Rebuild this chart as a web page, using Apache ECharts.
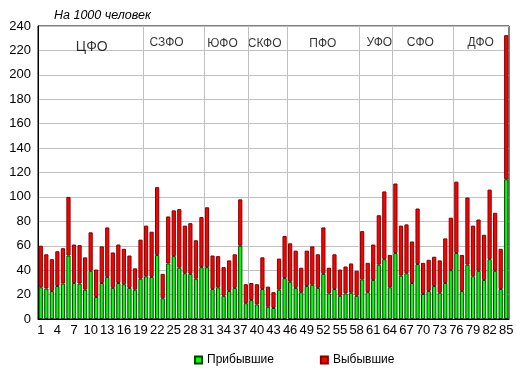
<!DOCTYPE html>
<html>
<head>
<meta charset="utf-8">
<script src="https://cdn.jsdelivr.net/npm/echarts@6/dist/echarts.min.js"></script>
<style>
  html, body { margin: 0; padding: 0; background: #fff; }
  #chart { width: 520px; height: 376px; }
</style>
</head>
<body>
<div id="chart"></div>
<script>
// region numbers 1..85
const categories = Array.from({ length: 85 }, (_, i) => String(i + 1));

// Прибывшие (green, bottom of stack)
const arrivals = [
  26, 25, 23, 27, 29, 52, 29.5, 29, 24, 39.5,
  18, 29.5, 34.5, 25.5, 29.5, 28.5, 25.5, 24, 33, 35,
  34.5, 52.5, 17, 45.5, 51.5, 42, 37.5, 37, 33, 42.5,
  42.5, 24.5, 26, 19, 23, 25.5, 60, 13, 15.5, 12,
  24.5, 10, 9, 24, 33.5, 30.5, 25.5, 22, 27, 28,
  25.5, 37, 21, 24.5, 19, 21, 21.5, 19, 32.5, 22,
  32, 44.5, 49, 26, 54, 35.5, 37.5, 29.5, 45, 20.5,
  23, 27, 21.5, 29.5, 40, 54, 23, 44.5, 35, 39.5,
  32, 49, 39.5, 24.5, 114.5
];

// Выбывшие (red, on top)
const departures = [
  34, 28, 26, 28.5, 29, 48, 31.5, 31.5, 26.5, 31.5,
  22.5, 30, 40.5, 29, 31.5, 29, 26.5, 17.5, 32, 41.5,
  37, 55.5, 20, 38.5, 37.5, 48, 39, 41.5, 31.5, 41,
  49, 27.5, 25.5, 23.5, 25, 27.5, 38, 15.5, 14, 16.5,
  26, 16.5, 13, 25.5, 34.5, 31.5, 30.5, 20, 29, 31.5,
  27.5, 38, 21, 28.5, 21.5, 22, 24, 20.5, 39.5, 24,
  29, 40.5, 55.5, 26.5, 57, 41, 40, 34, 45.5, 25.5,
  25.5, 24, 26.5, 36.5, 43, 58.5, 29.5, 55, 41.5, 42,
  37, 57, 47.5, 33, 118
];

// federal districts: label, centre (in region units), label height, font size
const districtNames = ['ЦФО', 'СЗФО', 'ЮФО', 'СКФО', 'ПФО', 'УФО', 'СФО', 'ДФО'];
const districtCenters = [10.2, 23.7, 33.8, 41.4, 51.9, 62.1, 69.5, 80.4];
const districtLabelY = [223, 226, 225.5, 225.5, 225.5, 226.5, 226, 226.5];
const districtFontSize = [14, 12, 12, 12, 12, 12, 12, 12];
// separator lines between districts
const districtBounds = [19.5, 30.5, 38.5, 45.5, 58.5, 64.5, 75.5];

const chart = echarts.init(document.getElementById('chart'), null, { renderer: 'canvas' });

const option = {
  animation: false,
  backgroundColor: '#fff',
  textStyle: { fontFamily: 'Liberation Sans', color: '#000' },
  title: {
    text: 'На 1000 человек',
    left: 54,
    top: 9,
    padding: 0,
    textStyle: { fontSize: 12.5, fontStyle: 'italic', fontWeight: 'normal', color: '#000' }
  },
  legend: {
    data: ['Прибывшие', 'Выбывшие'],
    left: 194,
    top: 354,
    padding: 0,
    itemWidth: 7,
    itemHeight: 7,
    itemGap: 46,
    icon: 'rect',
    textStyle: { fontSize: 12, color: '#000' }
  },
  grid: {
    left: 38, right: 11, top: 26, bottom: 57,
    show: true, borderColor: '#000', borderWidth: 1, backgroundColor: 'transparent'
  },
  xAxis: [
    {
      type: 'category',
      data: categories,
      axisLine: { show: true, lineStyle: { color: '#000', width: 1 } },
      axisTick: { show: false },
      axisLabel: { interval: 2, fontSize: 13, color: '#000', margin: 5 },
      splitLine: { show: false }
    },
    {
      type: 'value',
      min: 0.5,
      max: 85.5,
      show: false
    }
  ],
  yAxis: {
    type: 'value',
    min: 0,
    max: 240,
    interval: 20,
    axisLine: { show: true, lineStyle: { color: '#000', width: 1 } },
    axisTick: { show: false },
    axisLabel: { fontSize: 13, color: '#000', margin: 7 },
    splitLine: { show: true, lineStyle: { color: '#c0c0c0', width: 1 } }
  },
  series: [
    {
      name: 'Прибывшие',
      type: 'bar',
      stack: 'total',
      barWidth: '76%',
      data: arrivals,
      z: 3,
      itemStyle: { color: '#00ff00', borderColor: '#004000', borderWidth: 1 }
    },
    {
      name: 'Выбывшие',
      type: 'bar',
      stack: 'total',
      barWidth: '76%',
      data: departures,
      z: 3,
      itemStyle: { color: '#ff0000', borderColor: '#800000', borderWidth: 1 }
    },
    {
      name: 'districts',
      type: 'scatter',
      xAxisIndex: 1,
      symbolSize: 0,
      silent: true,
      z: 1,
      data: districtNames.map((name, i) => ({
        name: name,
        value: [districtCenters[i], districtLabelY[i]],
        label: { fontSize: districtFontSize[i] }
      })),
      label: {
        show: true,
        position: 'inside',
        formatter: (p) => p.name,
        color: '#000',
        fontFamily: 'Liberation Sans'
      },
      markLine: {
        silent: true,
        symbol: 'none',
        label: { show: false },
        lineStyle: { color: '#c0c0c0', width: 1, type: 'solid' },
        data: districtBounds.map((x) => ({ xAxis: x }))
      }
    }
  ]
};

chart.setOption(option);
</script>
</body>
</html>
